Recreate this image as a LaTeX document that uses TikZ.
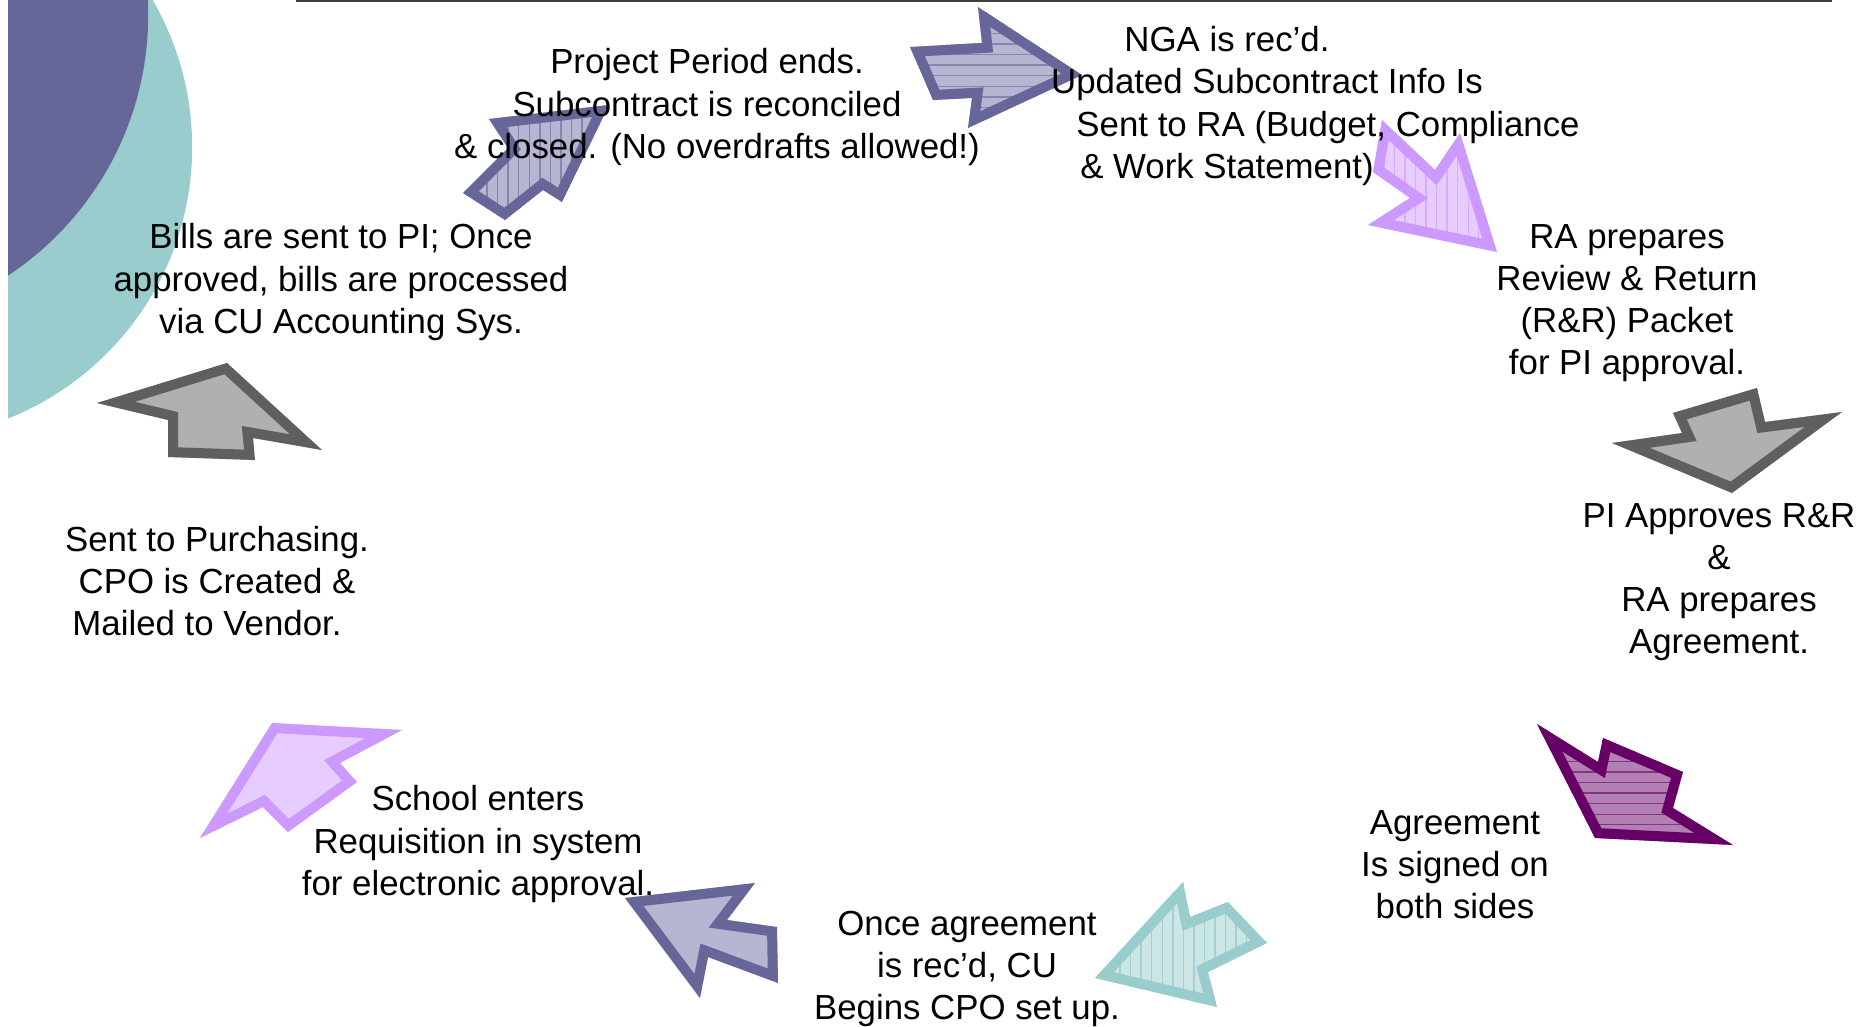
\documentclass[tikz,border=0pt]{standalone}
\usepackage{fontspec}
\setmainfont{Liberation Sans}
\usetikzlibrary{patterns}

\definecolor{slate}{HTML}{666699}
\definecolor{slatefill}{HTML}{B6B6D3}
\definecolor{lilac}{HTML}{CC99FF}
\definecolor{lilacfill}{HTML}{E6CCFF}
\definecolor{steel}{HTML}{5F5F5F}
\definecolor{steelfill}{HTML}{B0B0B0}
\definecolor{plum}{HTML}{660066}
\definecolor{plumfill}{HTML}{B380B3}
\definecolor{seafoam}{HTML}{99CCCC}
\definecolor{seafoamfill}{HTML}{CCE6E6}

\tikzset{
  steptext/.style={align=center, inner sep=0pt, font=\fontsize{9.9}{11.95}\selectfont},
}

% block arrow: #1 outline colour, #2 fill colour, #3 hatching, #4 corner points
\newcommand{\blockarrow}[4]{%
  \begin{scope}
    \clip #4 -- cycle;
    \fill[#2] #4 -- cycle;
    \fill[#3] #4 -- cycle;
    \draw[#1, line width=0.2cm, line join=miter] #4 -- cycle;
  \end{scope}}

\begin{document}
\begin{tikzpicture}[x=0.01cm, y=-0.01cm]

    % Page frame, one unit is one pixel of the slide
    \useasboundingbox (0,0) rectangle (1872,1027);

    % Two discs in the top left corner, cut off at the page edge
    \begin{scope}
        \clip (8,0) rectangle (1872,1027);
        \fill[seafoam] (-100,147) circle [radius=2.92cm];
        \fill[slate] (-164,15) circle [radius=3.12cm];
    \end{scope}

    % Rule along the top
    \draw[line width=0.45pt, black!75] (296,1) -- (1832,1);

    % The nine block arrows of the cycle, clockwise from the top
    \blockarrow{slate}{slatefill}{pattern=horizontal lines, pattern color=slate!80}
        {(910,47) -- (982,43) -- (978,7) -- (1082,75) -- (968,128) -- (972,98) -- (933,100)}
    \blockarrow{lilac}{lilacfill}{pattern=vertical lines, pattern color=lilac!80}
        {(1382,120) -- (1435,170) -- (1460,133) -- (1497,252) -- (1368,225) -- (1410,198) -- (1373,172)}
    \blockarrow{steel}{steelfill}{fill=none}
        {(1612,443) -- (1682,433) -- (1673,413) -- (1757,388) -- (1765,422) -- (1842,412) -- (1732,493)}
    \blockarrow{plum}{plumfill}{pattern=horizontal lines, pattern color=plum!80}
        {(1537,724) -- (1598,762) -- (1603,738) -- (1683,772) -- (1673,808) -- (1733,845) -- (1595,838)}
    \blockarrow{seafoam}{seafoamfill}{pattern=vertical lines, pattern color=seafoam!90}
        {(1095,978) -- (1183,882) -- (1190,917) -- (1228,902) -- (1267,943) -- (1208,972) -- (1217,1007)}
    \blockarrow{slate}{slatefill}{fill=none}
        {(625,898) -- (755,883) -- (727,920) -- (777,927) -- (778,983) -- (708,957) -- (700,998)}
    \blockarrow{lilac}{lilacfill}{fill=none}
        {(272,723) -- (402,730) -- (340,763) -- (357,782) -- (288,832) -- (263,807) -- (200,838)}
    \blockarrow{steel}{steelfill}{fill=none}
        {(97,403) -- (227,363) -- (322,450) -- (253,438) -- (255,460) -- (168,457) -- (168,420)}
    \blockarrow{slate}{slatefill}{pattern=vertical lines, pattern color=slate!80}
        {(609,105) -- (562,202) -- (543,190) -- (505,220) -- (463,193) -- (508,148) -- (489,119)}

    % Step texts
    \node[steptext] (ends) at (707,107)
        {Project Period ends.\\Subcontract is reconciled\\\hspace*{0.2cm}\& closed. (No overdrafts allowed!)};
    \node[steptext] (nga) at (1227,106)
        {NGA is rec’d.\\\hspace*{0.8cm}Updated Subcontract Info Is\\\hspace*{2.02cm}Sent to RA (Budget, Compliance\\\& Work Statement)};
    \node[steptext] (packet) at (1627,303)
        {RA prepares\\Review \& Return\\(R\&R) Packet\\for PI approval.};
    \node[steptext] (approve) at (1719,582)
        {PI Approves R\&R\\\&\\RA prepares\\Agreement.};
    \node[steptext] (signed) at (1455,865)
        {Agreement\\Is signed on\\both sides};
    \node[steptext] (setup) at (967,969)
        {Once agreement\\is rec’d, CU\\Begins CPO set up.};
    \node[steptext] (requisition) at (478,844)
        {School enters\\Requisition in system\\for electronic approval.};
    \node[steptext] (purchasing) at (217,581)
        {Sent to Purchasing.\\CPO is Created \&\\Mailed to Vendor.\hspace*{0.2cm}};
    \node[steptext] (bills) at (341,282)
        {Bills are sent to PI; Once\\approved, bills are processed\\via CU Accounting Sys.};

\end{tikzpicture}
\end{document}
